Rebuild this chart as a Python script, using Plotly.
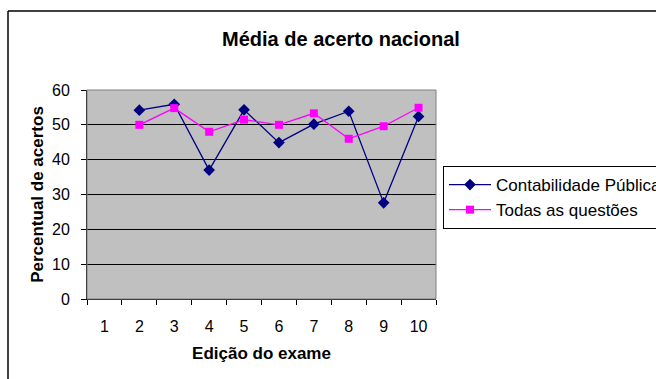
import plotly.graph_objects as go

# Exam editions and national average hit rates (%)
edicoes = ["1", "2", "3", "4", "5", "6", "7", "8", "9", "10"]
contabilidade_publica = [None, 54.2, 55.9, 37.0, 54.3, 44.9, 50.2, 53.9, 27.6, 52.4]
todas_questoes = [None, 50.0, 54.8, 48.0, 51.5, 50.0, 53.3, 46.0, 49.6, 54.9]
y_ticks = [0, 10, 20, 30, 40, 50, 60]

W, H = 656, 379
L, R, T, B = 87, 436, 90, 299  # plot area in pixels


def px_x(x):
    return (x - L) / (R - L)


def px_y(y):
    return (B - y) / (B - T)


FONT = "Liberation Sans, Arial, sans-serif"

fig = go.Figure()
fig.add_trace(go.Scatter(
    x=edicoes, y=contabilidade_publica, name="Contabilidade Pública",
    mode="lines+markers",
    line=dict(color="#000080", width=1.3),
    marker=dict(symbol="diamond", size=9, color="#000080"),
))
fig.add_trace(go.Scatter(
    x=edicoes, y=todas_questoes, name="Todas as questões",
    mode="lines+markers",
    line=dict(color="#ff00ff", width=1.3),
    marker=dict(symbol="square", size=8, color="#ff00ff"),
))

shapes = [
    # plot area frame
    dict(type="rect", xref="paper", yref="paper", x0=0, x1=1, y0=0, y1=1,
         line=dict(color="#808080", width=1), layer="above"),
    # outer chart border (left and top edges)
    dict(type="line", xref="paper", yref="paper",
         x0=px_x(8), x1=px_x(8), y0=px_y(11), y1=px_y(390),
         line=dict(color="black", width=1.5)),
    dict(type="line", xref="paper", yref="paper",
         x0=px_x(8), x1=px_x(670), y0=px_y(11), y1=px_y(11),
         line=dict(color="black", width=1.5)),
]

fig.update_layout(
    width=W, height=H,
    margin=dict(l=L, r=W - R, t=T, b=H - B, autoexpand=False),
    paper_bgcolor="white",
    plot_bgcolor="#c0c0c0",
    font=dict(family=FONT, size=16, color="black"),
    title=dict(text="<b>Média de acerto nacional</b>", x=341 / W,
               xanchor="center", y=1 - 39 / H, yanchor="middle",
               font=dict(size=20, family=FONT, color="black")),
    showlegend=True,
    legend=dict(x=px_x(443), y=px_y(166), xanchor="left", yanchor="top",
                bordercolor="black", borderwidth=1, bgcolor="white",
                font=dict(size=17, family=FONT), tracegroupgap=0,
                itemwidth=42),
    xaxis=dict(
        type="category", categoryorder="array", categoryarray=edicoes,
        range=[-0.5, 9.5], tickson="boundaries", ticks="outside", ticklen=5,
        tickcolor="black", showline=True, linecolor="black", linewidth=1,
        showgrid=False, zeroline=False, ticklabelstandoff=13,
        title=dict(text="<b>Edição do exame</b>", standoff=12,
                   font=dict(size=17, family=FONT)),
        tickfont=dict(size=16, family=FONT),
    ),
    yaxis=dict(
        range=[0, 60], tickvals=y_ticks, ticks="outside", ticklen=5,
        tickcolor="black", showline=True, linecolor="black", linewidth=1,
        showgrid=True, gridcolor="black", gridwidth=1, zeroline=False,
        ticklabelstandoff=8,
        title=dict(text="<b>Percentual de acertos</b>", standoff=4,
                   font=dict(size=17, family=FONT)),
        tickfont=dict(size=16, family=FONT),
    ),
    shapes=shapes,
)

fig.write_html("out.html")
